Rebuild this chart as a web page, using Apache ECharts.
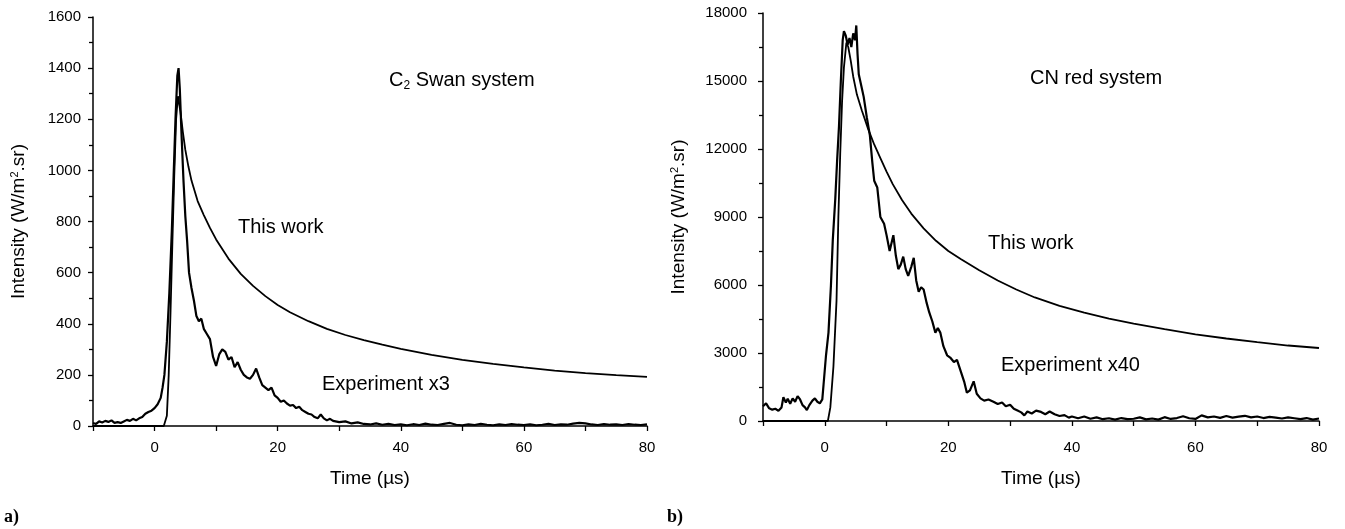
<!DOCTYPE html>
<html>
<head>
<meta charset="utf-8">
<script src="https://cdn.jsdelivr.net/npm/echarts@6/dist/echarts.min.js"></script>
<style>
  html, body { margin: 0; padding: 0; background: #fff; }
  #main { width: 1345px; height: 529px; }
</style>
</head>
<body>
<div id="main"></div>
<script>
// time (µs), intensity (W/m2.sr) pairs
var c2Model = [[-10, 0], [1.5, 0], [2, 40], [2.3, 200], [2.6, 450], [2.9, 720], [3.2, 980], [3.5, 1200], [3.8, 1290],
  [4.2, 1230], [4.6, 1150], [5.0, 1080], [5.5, 1015], [6, 960], [6.5, 920], [7, 880], [8, 825], [9, 775], [10, 730],
  [12, 655], [14, 595], [16, 548], [18, 508], [20, 473], [22, 445], [25, 410], [28, 380], [31, 356], [34, 336],
  [37, 318], [40, 302], [45, 278], [50, 259], [55, 243], [60, 229], [65, 217], [70, 207], [75, 199], [80, 192]]

var c2Exp = [[-10, 12], [-9.5, 8], [-9, 18], [-8.5, 14], [-8, 20], [-7.5, 16], [-7, 22], [-6.5, 12], [-6, 15],
  [-5.5, 12], [-5, 18], [-4.5, 24], [-4, 20], [-3.5, 28], [-3, 22], [-2.5, 30], [-2, 35], [-1.5, 48], [-1, 55],
  [-0.5, 60], [0, 70], [0.5, 85], [1, 110], [1.3, 150], [1.6, 200], [2, 330], [2.4, 520], [2.8, 760], [3.1, 980],
  [3.4, 1200], [3.7, 1370], [3.9, 1400], [4.1, 1320], [4.4, 1130], [4.7, 960], [5.0, 820], [5.3, 720], [5.6, 600],
  [6, 540], [6.4, 490], [6.8, 430], [7.2, 410], [7.6, 420], [8, 380], [8.5, 360], [9, 340], [9.5, 270], [10, 235],
  [10.5, 280], [11, 300], [11.5, 290], [12, 260], [12.5, 270], [13, 230], [13.5, 250], [14, 220], [14.5, 200],
  [15, 190], [15.5, 185], [16, 200], [16.5, 225], [17, 190], [17.5, 160], [18, 150], [18.5, 140], [19, 150],
  [19.5, 120], [20, 110], [20.5, 95], [21, 100], [21.5, 88], [22, 80], [22.5, 82], [23, 70], [23.5, 75], [24, 62],
  [24.5, 55], [25, 48], [25.5, 45], [26, 35], [26.5, 30], [27, 45], [27.5, 30], [28, 22], [28.5, 28], [29, 20],
  [30, 15], [31, 18], [32, 10], [33, 14], [34, 8], [35, 6], [36, 10], [37, 5], [38, 8], [39, 4], [40, 6], [41, 3],
  [42, 7], [43, 4], [44, 9], [45, 5], [46, 4], [47, 8], [48, 12], [49, 5], [50, 3], [51, 6], [52, 4], [53, 8],
  [54, 5], [55, 3], [56, 6], [57, 4], [58, 7], [59, 5], [60, 4], [61, 6], [62, 3], [63, 5], [64, 8], [65, 4],
  [66, 6], [67, 5], [68, 9], [69, 12], [70, 10], [71, 6], [72, 4], [73, 7], [74, 5], [75, 6], [76, 4], [77, 7],
  [78, 5], [79, 4], [80, 6]]

var cnModel = [[-10, 0], [0.5, 0], [0.9, 600], [1.4, 2400], [1.9, 5300], [2.2, 9000], [2.5, 11800], [2.8, 14100],
  [3.1, 15600], [3.5, 16700], [3.8, 16500], [4.2, 15900], [4.6, 15200], [5.2, 14400], [6, 13700], [7, 12900],
  [8, 12200], [9, 11600], [10, 11000], [11, 10450], [12.5, 9750], [14, 9150], [16, 8500], [18, 7950], [20, 7500],
  [22, 7150], [25, 6650], [28, 6200], [31, 5800], [34, 5450], [38, 5080], [42, 4780], [46, 4520], [50, 4300],
  [55, 4050], [60, 3820], [65, 3640], [70, 3480], [75, 3330], [80, 3220]]

var cnExp = [[-10, 650], [-9.5, 780], [-9, 560], [-8.5, 500], [-8, 540], [-7.5, 450], [-7, 600], [-6.7, 1050],
  [-6.3, 820], [-6, 980], [-5.6, 760], [-5.2, 1000], [-4.8, 850], [-4.4, 1100], [-4, 950], [-3.6, 700], [-3.2, 600],
  [-2.9, 480], [-2.5, 700], [-2, 900], [-1.6, 1000], [-1.2, 850], [-0.8, 780], [-0.4, 950], [-0.2, 1600],
  [0.2, 2900], [0.6, 3900], [1.0, 6000], [1.3, 8000], [1.7, 9800], [2.0, 11500], [2.3, 13000], [2.6, 15000],
  [2.9, 16800], [3.1, 17200], [3.4, 17000], [3.7, 16600], [4.0, 16900], [4.3, 16500], [4.6, 17100], [4.9, 16800],
  [5.1, 17450], [5.3, 16200], [5.5, 15300], [5.9, 14800], [6.3, 14300], [6.8, 13400], [7.3, 12600], [7.7, 11400],
  [8, 10600], [8.5, 10300], [9, 9000], [9.6, 8700], [10, 8200], [10.5, 7500], [11.1, 8200], [11.5, 7300],
  [11.9, 6700], [12.3, 6900], [12.7, 7250], [13.1, 6700], [13.5, 6400], [14, 6800], [14.4, 7200], [14.8, 6200],
  [15.2, 5700], [15.6, 5900], [16, 5800], [16.5, 5200], [16.9, 4800], [17.4, 4400], [17.9, 3900], [18.3, 4100],
  [18.7, 3900], [19.2, 3300], [19.8, 2900], [20.3, 2800], [20.9, 2600], [21.4, 2700], [22, 2200], [22.6, 1700],
  [23, 1250], [23.5, 1350], [24.1, 1750], [24.6, 1200], [25.2, 1000], [25.8, 900], [26.5, 950], [27.3, 850],
  [28, 750], [28.7, 820], [29.3, 650], [30, 720], [30.6, 540], [31.2, 460], [31.8, 380], [32.3, 250], [32.8, 420],
  [33.5, 330], [34.2, 460], [35, 400], [35.7, 300], [36.4, 420], [37.2, 300], [38, 220], [38.8, 260], [39.5, 150],
  [40, 200], [41, 120], [42, 200], [43, 100], [44, 160], [45, 80], [46, 120], [47, 60], [48, 130], [49, 80],
  [50, 100], [51, 160], [52, 70], [53, 110], [54, 60], [55, 170], [56, 90], [57, 130], [58, 210], [59, 120],
  [60, 90], [61, 250], [62, 160], [63, 200], [64, 140], [65, 220], [66, 150], [67, 190], [68, 230], [69, 160],
  [70, 200], [71, 130], [72, 180], [73, 150], [74, 110], [75, 160], [76, 120], [77, 80], [78, 130], [79, 60],
  [80, 110]]

var font = 'Liberation Sans'

function xAxisFor (gridIndex, labelMargin, gap) {
  return {
    gridIndex: gridIndex,
    type: 'value',
    min: -10,
    max: 80,
    interval: 10,
    name: 'Time (µs)',
    nameLocation: 'middle',
    nameGap: gap,
    nameTextStyle: { color: '#000', fontSize: 19, fontFamily: font },
    axisLine: { onZero: false, lineStyle: { color: '#000', width: 1.5 } },
    axisTick: { length: 5, lineStyle: { color: '#000', width: 1.3 } },
    axisLabel: {
      color: '#000', fontSize: 15, fontFamily: font, margin: labelMargin,
      formatter: function (v) { return v % 20 === 0 ? String(v) : '' }
    },
    splitLine: { show: false }
  }
}

function yAxisFor (gridIndex, max, interval, gap, labelMargin) {
  return {
    gridIndex: gridIndex,
    type: 'value',
    min: 0,
    max: max,
    interval: interval,
    name: 'Intensity (W/m{sup|2}.sr)',
    nameLocation: 'middle',
    nameGap: gap,
    nameTextStyle: {
      color: '#000', fontSize: 19, fontFamily: font,
      rich: { sup: { fontSize: 11, fontFamily: font, color: '#000', verticalAlign: 'top', padding: [0, 0, 9, 0] } }
    },
    axisLine: { show: true, onZero: false, lineStyle: { color: '#000', width: 1.5 } },
    axisTick: { length: 5, lineStyle: { color: '#000', width: 1.3 } },
    minorTick: { show: true, splitNumber: 2, length: 4, lineStyle: { color: '#000', width: 1.3 } },
    axisLabel: {
      color: '#000', fontSize: 15, fontFamily: font, margin: labelMargin,
      formatter: function (v) { return String(v) }
    },
    splitLine: { show: false },
    minorSplitLine: { show: false }
  }
}

function lineSeries (data, xi, width) {
  return {
    type: 'line',
    xAxisIndex: xi,
    yAxisIndex: xi,
    data: data,
    showSymbol: false,
    animation: false,
    silent: true,
    lineStyle: { color: '#000', width: width }
  }
}

function txt (left, top, text) {
  return {
    type: 'text',
    left: left,
    top: top,
    silent: true,
    style: {
      text: text,
      fill: '#000',
      font: '20px "' + font + '"',
      rich: {
        sub: { fontSize: 12, fontFamily: font, fill: '#000', verticalAlign: 'bottom', padding: [12, 0, 0, 0] }
      }
    }
  }
}

var chart = echarts.init(document.getElementById('main'), null, { renderer: 'canvas' })
chart.setOption({
  backgroundColor: '#fff',
  animation: false,
  grid: [
    { left: 93, top: 17, width: 554, height: 409 },
    { left: 763, top: 13, width: 556, height: 408 }
  ],
  xAxis: [xAxisFor(0, 14, 43), xAxisFor(1, 19, 48)],
  yAxis: [yAxisFor(0, 1600, 200, 64, 12), yAxisFor(1, 18000, 3000, 74, 16)],
  series: [
    lineSeries(c2Model, 0, 1.8),
    lineSeries(c2Exp, 0, 2.2),
    lineSeries(cnModel, 1, 1.8),
    lineSeries(cnExp, 1, 2.2)
  ],
  graphic: [
    txt(389, 70, 'C{sub|2} Swan system'),
    txt(238, 217, 'This work'),
    txt(322, 374, 'Experiment x3'),
    txt(1030, 68, 'CN red system'),
    txt(988, 233, 'This work'),
    txt(1001, 355, 'Experiment x40'),
    { type: 'text', left: 4, top: 508, silent: true, style: { text: 'a)', fill: '#000', font: 'bold 18px "Liberation Serif"' } },
    { type: 'text', left: 667, top: 508, silent: true, style: { text: 'b)', fill: '#000', font: 'bold 18px "Liberation Serif"' } }
  ]
})
</script>
</body>
</html>
